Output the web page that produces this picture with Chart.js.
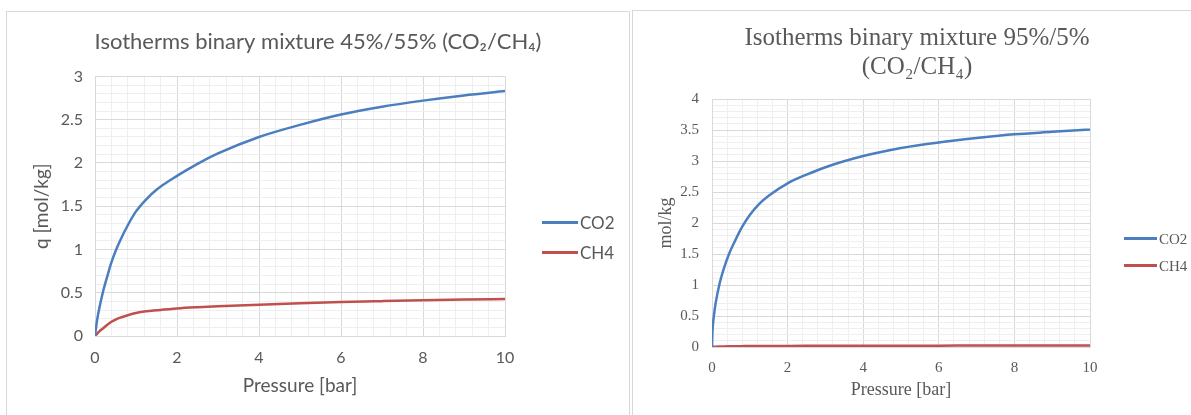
<!DOCTYPE html>
<html>
<head>
<meta charset="utf-8">
<script src="https://cdn.jsdelivr.net/npm/chart.js@4.4.1/dist/chart.umd.min.js"></script>
<style>
  body { margin: 0; background: #fff; width: 1191px; height: 415px; overflow: hidden; position: relative; }
  .panel { position: absolute; border: 1px solid #d9d9d9; box-sizing: border-box; }
  .wrap { position: absolute; }
  .legend { position: absolute; color: #595959; }
  .legend div { position: absolute; white-space: nowrap; }
  .legend span.ln { display: inline-block; vertical-align: middle; height: 3px; }
</style>
</head>
<body>
<div class="panel" style="left:6px; top:11px; width:624px; height:420px;"></div>
<div class="panel" style="left:632px; top:10px; width:570px; height:420px;"></div>

<div class="wrap" style="left:8px; top:13px; width:620px; height:402px;"><canvas id="leftChart" width="620" height="402"></canvas></div>
<div class="wrap" style="left:634px; top:12px; width:557px; height:403px;"><canvas id="rightChart" width="557" height="403"></canvas></div>

<div class="legend" id="leftLegend" style="font-family: Lato, 'Open Sans', sans-serif; font-size:17px;"></div>
<div class="legend" id="rightLegend" style="font-family: 'Liberation Serif', serif; font-size:15px;"></div>

<script>
// Data
const seriesNames = ['CO2', 'CH4'];
const seriesColors = ['#4a7ebf', '#c0504d'];

// Left: 45%/55% mixture
const pressureLeft = [0, 0.05, 0.1, 0.2, 0.3, 0.4, 0.5, 0.6, 0.8, 1, 1.25, 1.5, 2, 2.5, 3, 4, 5, 6, 7, 8, 9, 10];
const co2Left = [0, 0.18, 0.31, 0.52, 0.69, 0.85, 0.98, 1.09, 1.28, 1.44, 1.58, 1.69, 1.85, 1.99, 2.11, 2.3, 2.44, 2.56, 2.65, 2.72, 2.78, 2.83];
const ch4Left = [0, 0.025, 0.05, 0.09, 0.13, 0.165, 0.19, 0.21, 0.24, 0.265, 0.285, 0.297, 0.318, 0.332, 0.343, 0.362, 0.378, 0.392, 0.403, 0.413, 0.421, 0.428];

// Right: 95%/5% mixture
const pressureRight = [0, 0.01, 0.05, 0.1, 0.2, 0.3, 0.45, 0.6, 0.8, 1, 1.25, 1.5, 2, 2.5, 3, 4, 5, 6, 7, 8, 9, 10];
const co2Right = [0, 0.22, 0.5, 0.72, 1.02, 1.24, 1.5, 1.7, 1.94, 2.13, 2.31, 2.44, 2.64, 2.78, 2.9, 3.08, 3.21, 3.3, 3.37, 3.43, 3.47, 3.51];
const ch4Right = [0, 0.002, 0.003, 0.005, 0.008, 0.01, 0.012, 0.013, 0.014, 0.015, 0.016, 0.017, 0.018, 0.019, 0.02, 0.021, 0.022, 0.022, 0.023, 0.023, 0.024, 0.024];

const xTicksMajor = 2, xTicksMinor = 0.4;
const yTicksMajor = 0.5, yTicksMinor = 0.1;

function isMajor(v, step) {
    return Math.abs(v / step - Math.round(v / step)) < 1e-6;
}

function points(xs, ys) {
    return xs.map((x, i) => ({ x: x, y: ys[i] }));
}

function makeChart(id, cfg) {
    const textColor = '#595959';
    const ctx = document.getElementById(id).getContext('2d');
    return new Chart(ctx, {
        type: 'scatter',
        data: {
            datasets: cfg.series.map((s, i) => ({
                label: seriesNames[i],
                data: points(cfg.pressure, s),
                showLine: true,
                borderColor: seriesColors[i],
                backgroundColor: seriesColors[i],
                borderWidth: 2.5,
                pointRadius: 0,
                cubicInterpolationMode: 'monotone'
            }))
        },
        options: {
            responsive: false,
            animation: false,
            devicePixelRatio: 1,
            layout: { padding: cfg.padding },
            plugins: {
                legend: { display: false },
                tooltip: { enabled: false },
                title: {
                    display: true,
                    text: cfg.title,
                    color: textColor,
                    font: { family: cfg.font, size: cfg.titleSize, weight: 'normal', lineHeight: cfg.titleLine },
                    padding: cfg.titlePad
                }
            },
            scales: {
                x: {
                    type: 'linear',
                    min: 0,
                    max: 10,
                    afterFit: function(scale) { scale.height = cfg.xHeight; },
                    border: { color: '#d9d9d9' },
                    grid: {
                        drawTicks: false,
                        color: c => isMajor(c.tick.value, xTicksMajor) ? '#d9d9d9' : '#efefef'
                    },
                    ticks: {
                        stepSize: xTicksMinor,
                        autoSkip: false,
                        maxRotation: 0,
                        padding: cfg.xTickPad,
                        color: textColor,
                        font: { family: cfg.font, size: cfg.tickSize },
                        callback: v => isMajor(v, xTicksMajor) ? String(Math.round(v)) : ''
                    },
                    title: {
                        display: true,
                        text: 'Pressure [bar]',
                        color: textColor,
                        font: { family: cfg.font, size: cfg.axisTitleSize },
                        padding: { top: 0, bottom: cfg.xTitlePad }
                    }
                },
                y: {
                    min: 0,
                    max: cfg.yMax,
                    afterFit: function(scale) { scale.width = cfg.yWidth; },
                    border: { color: '#d9d9d9' },
                    grid: {
                        drawTicks: false,
                        color: c => isMajor(c.tick.value, yTicksMajor) ? '#d9d9d9' : '#efefef'
                    },
                    ticks: {
                        stepSize: yTicksMinor,
                        autoSkip: false,
                        padding: cfg.yTickPad,
                        color: textColor,
                        font: { family: cfg.font, size: cfg.tickSize },
                        callback: v => isMajor(v, yTicksMajor) ? String(Math.round(v * 10) / 10) : ''
                    },
                    title: {
                        display: true,
                        text: cfg.yTitle,
                        color: textColor,
                        font: { family: cfg.font, size: cfg.axisTitleSize },
                        padding: { top: cfg.yTitlePad, bottom: 0 }
                    }
                },
                // empty axis that reserves the room where the legend sits
                legendRoom: {
                    type: 'linear',
                    position: 'right',
                    afterFit: function(scale) { scale.width = cfg.legendRoom; },
                    grid: { display: false },
                    border: { display: false },
                    ticks: { display: false }
                }
            }
        }
    });
}

makeChart('leftChart', {
    pressure: pressureLeft,
    series: [co2Left, ch4Left],
    title: 'Isotherms binary mixture 45%/55% (CO\u2082/CH\u2084)',
    font: "Lato, 'Open Sans', sans-serif",
    titleSize: 22,
    titleLine: 1.2,
    titlePad: { top: 16, bottom: 21 },
    padding: { left: 0, right: 0, top: 0, bottom: 0 },
    legendRoom: 123,
    yWidth: 87,
    xHeight: 79,
    yMax: 3,
    tickSize: 16,
    axisTitleSize: 19,
    yTitle: 'q [mol/kg]',
    yTitlePad: 22,
    xTickPad: 12,
    yTickPad: 12,
    xTitlePad: 18
});

makeChart('rightChart', {
    pressure: pressureRight,
    series: [co2Right, ch4Right],
    title: ['Isotherms binary mixture 95%/5%', '(CO\u2082/CH\u2084)'],
    font: "'Liberation Serif', serif",
    titleSize: 25,
    titleLine: 1.16,
    titlePad: { top: 12, bottom: 17 },
    padding: { left: 10, right: 1, top: 0, bottom: 0 },
    legendRoom: 100,
    yWidth: 68,
    xHeight: 68,
    yMax: 4,
    tickSize: 15,
    axisTitleSize: 18,
    yTitle: 'mol/kg',
    yTitlePad: 11,
    xTickPad: 12,
    yTickPad: 13,
    xTitlePad: 14
});

// HTML legends built from the series names/colours
function buildLegend(id, items) {
    const box = document.getElementById(id);
    items.forEach((it, i) => {
        const row = document.createElement('div');
        row.style.left = it.x + 'px';
        row.style.top = (it.y - 10) + 'px';
        row.style.lineHeight = '20px';
        row.innerHTML = '<span class="ln" style="width:' + it.w + 'px;background:' + seriesColors[i] + '"></span>' +
            '<span style="vertical-align:middle;margin-left:2px">' + seriesNames[i] + '</span>';
        box.appendChild(row);
    });
}
buildLegend('leftLegend', [{ x: 542, y: 221, w: 36 }, { x: 542, y: 251, w: 36 }]);
buildLegend('rightLegend', [{ x: 1124, y: 237, w: 33 }, { x: 1124, y: 264, w: 33 }]);
</script>
</body>
</html>
